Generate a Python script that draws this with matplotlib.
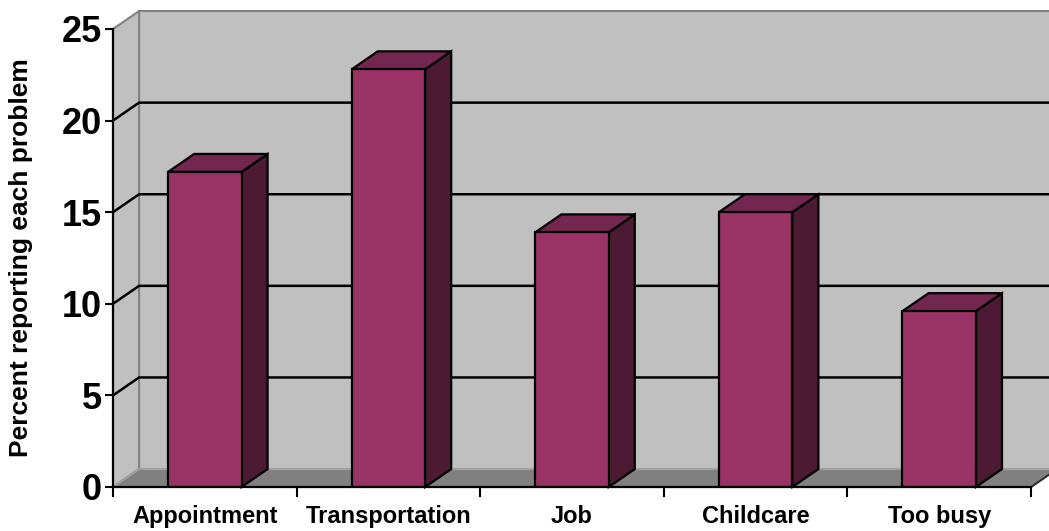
import matplotlib
matplotlib.use("Agg")
import matplotlib.pyplot as plt
from matplotlib.patches import Polygon

# data
categories = ["Appointment", "Transportation", "Job", "Childcare", "Too busy"]
values = [17.2, 22.8, 13.9, 15.0, 9.6]
y_ticks = [0, 5, 10, 15, 20, 25]

plt.rcParams['font.family'] = ['Liberation Sans', 'DejaVu Sans']
plt.rcParams['font.weight'] = 'bold'

W, H = 1049, 531
fig = plt.figure(figsize=(W / 100, H / 100), dpi=100)
ax = fig.add_axes([113 / W, (H - 487) / H, (1031 - 113) / W, (487 - 29) / H])
ax.set_xlim(0, len(categories))
ax.set_ylim(0, 25)
ax.patch.set_visible(False)

# depth offset of the fake 3d box (data units)
dx, dy = 0.142, 0.98
n = len(categories)
xr = n + 0.3  # walls run off the right edge of the picture

# back wall, left wall, floor
wall = "#C0C0C0"
edge = "#808080"
ax.add_patch(Polygon([(dx, dy), (xr, dy), (xr, 25 + dy), (dx, 25 + dy)],
                     closed=True, fc=wall, ec=edge, lw=1.5, clip_on=False, zorder=0))
ax.add_patch(Polygon([(0, 0), (dx, dy), (dx, 25 + dy), (0, 25)],
                     closed=True, fc=wall, ec=edge, lw=1.5, clip_on=False, zorder=0.5))
ax.add_patch(Polygon([(0, 0), (n, 0), (n + dx, dy), (dx, dy)],
                     closed=True, fc="#808080", ec="#A0A0A0", lw=1.5, clip_on=False, zorder=0.6))
ax.plot([n, n + 0.4], [0, 0.4 / dx * dy], color="#303030", lw=1.5, clip_on=False, zorder=0.7)

# gridlines on walls
for v in y_ticks[1:-1]:
    ax.plot([0, dx, xr], [v, v + dy, v + dy], color="black", lw=1.8,
            clip_on=False, zorder=1, solid_capstyle="butt")

# bars
bw = 0.4
front = "#993366"
top = "#732650"
side = "#4C1A33"
xs = [i + 0.5 for i in range(n)]
for x, v in zip(xs, values):
    l, r = x - bw / 2, x + bw / 2
    ax.add_patch(Polygon([(r, 0), (r + dx, dy), (r + dx, v + dy), (r, v)],
                         closed=True, fc=side, ec="black", lw=1.6, clip_on=False, zorder=2))
    ax.add_patch(Polygon([(l, v), (r, v), (r + dx, v + dy), (l + dx, v + dy)],
                         closed=True, fc=top, ec="black", lw=1.6, clip_on=False, zorder=2))
ax.bar(xs, values, width=bw, color=front, edgecolor="black", linewidth=1.6, zorder=3)

# axes styling
for s in ["top", "right"]:
    ax.spines[s].set_visible(False)
for s in ["left", "bottom"]:
    ax.spines[s].set_linewidth(1.6)
    ax.spines[s].set_zorder(4)

ax.set_yticks(y_ticks)
ax.tick_params(axis="y", direction="out", length=6, width=1.5, pad=2, labelsize=26)
ax.set_xticks(range(n + 1))
ax.set_xticklabels([])
ax.tick_params(axis="x", which="major", direction="out", length=7, width=1.5)
ax.set_xticks(xs, minor=True)
ax.set_xticklabels(categories, minor=True, fontsize=17, fontweight="bold")
ax.tick_params(axis="x", which="minor", length=0, pad=13)
for t in ax.get_yticklabels():
    t.set_fontweight("bold")

ax.set_ylabel("Percent reporting each problem", fontsize=19, fontweight="bold")
ax.yaxis.set_label_coords((33 - 113) / (1031 - 113), 0.5)

fig.savefig("out.png", dpi=100)
